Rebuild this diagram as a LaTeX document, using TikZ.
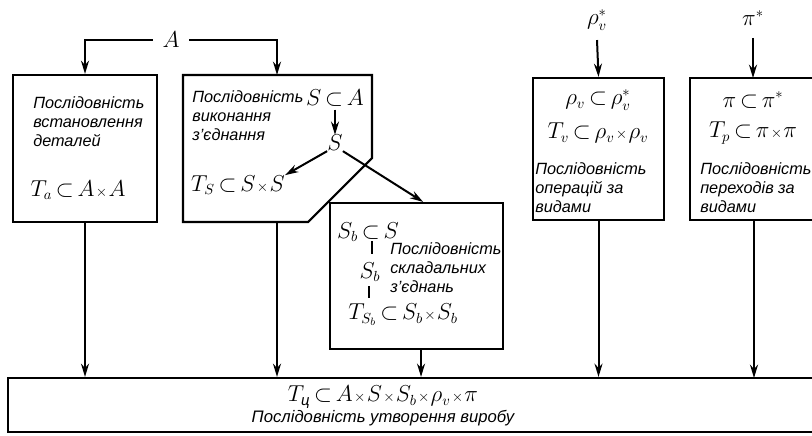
\documentclass[tikz,border=0pt]{standalone}
\usepackage{amsmath}
\usepackage{fontspec}
\setmainfont{Liberation Sans}
\usetikzlibrary{arrows.meta}
\newcommand\tms{\mathbin{\scriptstyle\times}}
\begin{document}
\medmuskip=1mu
\thickmuskip=3mu
\begin{tikzpicture}[x=0.75pt,y=-0.75pt,
  box/.style={draw, line width=1.6pt, inner sep=0},
  arr/.style={line width=1.5pt, -{Stealth[length=10pt,width=6pt]}},
  bar/.style={line width=1.5pt},
  txt/.style={font=\fontsize{12.2}{14.6}\selectfont\itshape, align=left, inner sep=0},
  btxt/.style={font=\fontsize{12.5}{14}\selectfont\itshape, inner sep=0},
  fml/.style={font=\fontsize{16}{18}\selectfont, inner sep=0}]
\useasboundingbox (0,0) rectangle (812,435);

% boxes
\node[box, minimum width=108pt, minimum height=110.25pt] (b1) at (85,148.5) {};
\coordinate (b2top) at (277,75);
\coordinate (b2bot) at (277,222);
\draw[line width=1.6pt, line join=miter] (183,75) -- (372,75) -- (372,158) -- (308,222) -- (183,222) -- cycle;
\node[box, minimum width=129.75pt, minimum height=109.5pt] (b3) at (416.5,276) {};
\node[box, minimum width=98.25pt, minimum height=106.5pt] (b4) at (598.5,149) {};
\node[box, minimum width=105pt, minimum height=106.5pt] (b5) at (760,149) {};
\node[box, minimum width=616.5pt, minimum height=40.5pt] (bot) at (419,405) {};

% box 1
\node[txt, anchor=north west] (t1) at (33,96) {Послідовність\\встановлення\\деталей};
\node[fml] (f1) at (78,190) {$T_a\subset A\tms A$};

% box 2
\node[txt, anchor=north west] (t2) at (192,90) {Послідовність\\виконання\\з'єднання};
\node[fml] (SA) at (335,98) {$S\subset A$};
\node[fml] (S) at (335,143) {$S$};
\node[fml] (TS) at (238,185) {$T_S\subset S\tms S$};
\draw[arr] (S.north |- SA.south) ++(0,3) -- (S.north);
\draw[arr] (S.south west) -- (TS.north east);
\draw[arr] (S.south east) -- ([xshift=5pt]b3.north);

% box 3
\node[fml] (Sb1) at (368,232) {$S_b\subset S$};
\node[fml] (Sb2) at (370,272) {$S_b$};
\node[fml] (TSb) at (403,315) {$T_{S_b}\subset S_b\tms S_b$};
\draw[bar] (372,241) -- (372,254);
\draw[bar] (369,286) -- (369,298);
\node[txt, anchor=north west] (t3) at (390,242) {Послідовність\\складальних\\з'єднань};

% box 4
\node[fml] (rhostar) at (597,20) {$\rho_v^*$};
\node[fml] (r1) at (598,100) {$\rho_v\subset\rho_v^*$};
\node[fml] (Tv) at (598,133) {$T_v\subset\rho_v\tms\rho_v$};
\node[txt, anchor=north west] (t4) at (535,162) {Послідовність\\операцій за\\видами};
\draw[arr] ([yshift=-7pt]rhostar.south) -- (b4.north);

% box 5
\node[fml] (pistar) at (753,18) {$\pi^*$};
\node[fml] (p1) at (753,100) {$\pi\subset\pi^*$};
\node[fml] (Tp) at (753,133) {$T_p\subset\pi\tms\pi$};
\node[txt, anchor=north west] (t5) at (700,162) {Послідовність\\переходів за\\видами};
\draw[arr] ([yshift=-9pt]pistar.south) -- (753,78);

% A
\node[fml, inner xsep=7pt] (A) at (171,40) {$A$};
\draw[arr] (A.west) -| (b1.north);
\draw[arr] (A.east) -| (b2top);

% to bottom
\draw[arr] (b1.south) -- (b1.south |- bot.north);
\draw[arr] (b2bot) -- (b2bot |- bot.north);
\draw[arr] ([xshift=3.4pt]b3.south) -- ([xshift=3.4pt]b3.south |- bot.north);
\draw[arr] (b4.south) -- (b4.south |- bot.north);
\draw[arr] (754,220) -- (754,378);

\node[fml] (fb) at (383,397) {$T_{\textit{ц}}\subset A\tms S\tms S_b\tms\rho_v\tms\pi$};
\node[btxt] (tb) at (383,418) {Послідовність утворення виробу};
\end{tikzpicture}
\end{document}
